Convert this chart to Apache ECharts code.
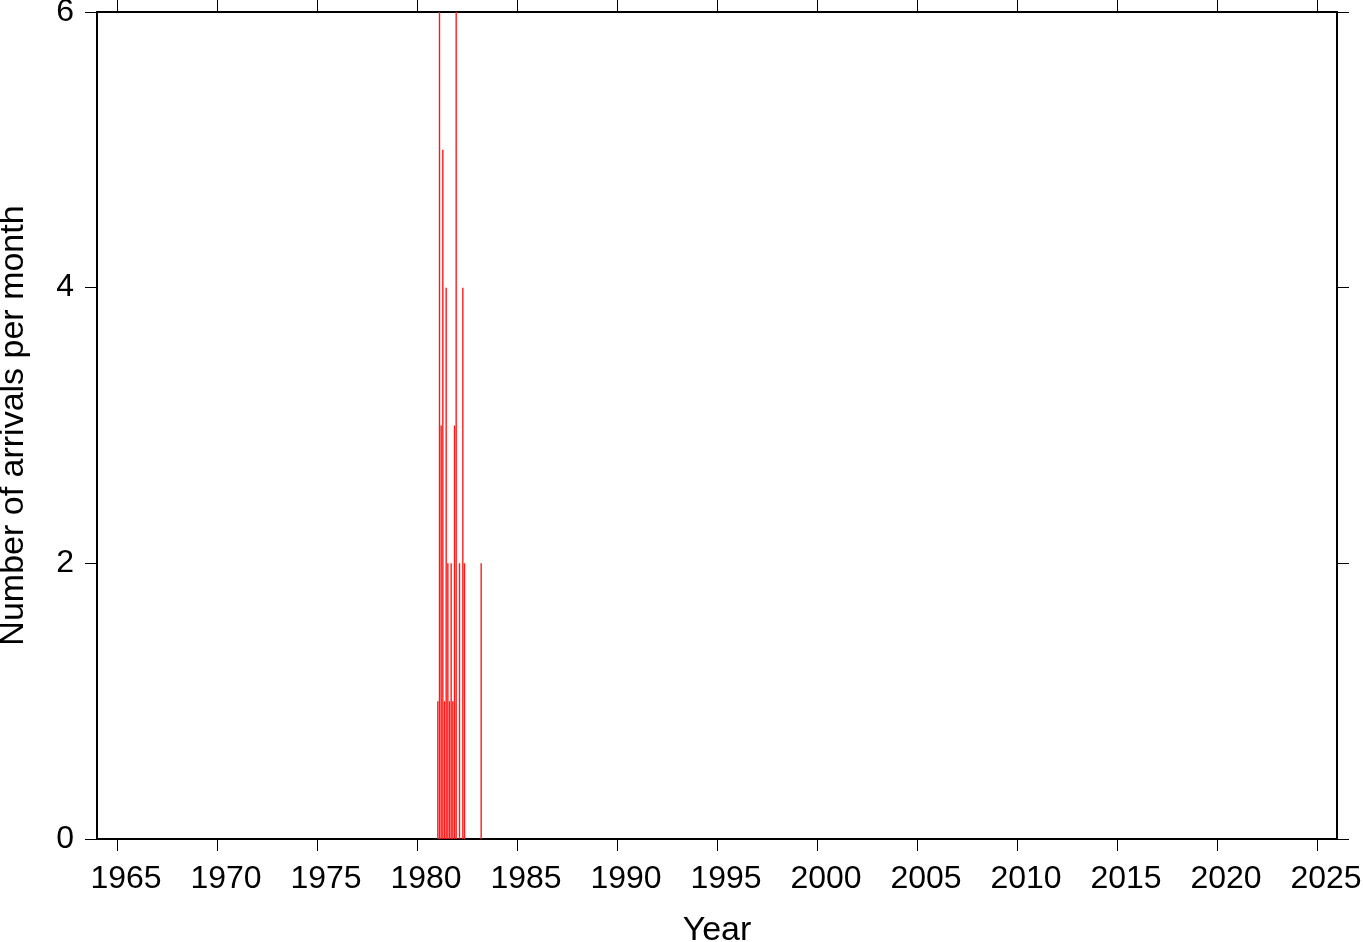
<!DOCTYPE html>
<html>
<head>
<meta charset="utf-8">
<script src="https://cdn.jsdelivr.net/npm/echarts@6/dist/echarts.min.js"></script>
<style>
html,body{margin:0;padding:0;background:#fff;}
#c{width:1363px;height:942px;}
</style>
</head>
<body>
<div id="c"></div>
<script>
// Monthly arrival counts (year-month)
const months = ["1981-01","1981-02","1981-03","1981-04","1981-05","1981-06","1981-07","1981-08",
                "1981-09","1981-10","1981-11","1981-12","1982-02","1982-04","1982-05","1983-03"];
const counts = [1,6,3,5,1,4,2,1,2,1,3,6,2,4,2,2];
const yearTicks = [1965,1970,1975,1980,1985,1990,1995,2000,2005,2010,2015,2020,2025];
const countTicks = [0,2,4,6];
const xTitle = "Year";
const yTitle = "Number of arrivals per month";

function monthCenter(s){
  const p = s.split("-");
  return (+p[0]) + (+p[1]-1)/12 + 1/24;
}
const barData = months.map((m,i)=>[monthCenter(m), counts[i]]);

const font = "Liberation Sans, Arial, Helvetica, sans-serif";
const chart = echarts.init(document.getElementById('c'), null, {renderer:'canvas'});
const lineStyle = {color:'#000', width:2};
const tickStyle = {color:'#000', width:1};
chart.setOption({
  animation:false,
  backgroundColor:'#fff',
  grid:{left:97, top:12, right:26, bottom:103, containLabel:false, outerBoundsMode:'none'},
  xAxis:[{
    type:'value', min:1964, max:2026, position:'bottom',
    name:xTitle, nameLocation:'middle', nameGap:75,
    nameTextStyle:{fontFamily:font, fontSize:34, color:'#000'},
    axisLine:{show:true, onZero:false, lineStyle:lineStyle},
    axisTick:{show:true, length:12, inside:false, lineStyle:tickStyle, customValues:yearTicks},
    axisLabel:{show:true, margin:24, fontFamily:font, fontSize:32, color:'#000', customValues:yearTicks,
      padding:[0,0,0,18], formatter:v=>String(v)},
    splitLine:{show:false}
  },{
    type:'value', min:1964, max:2026, position:'top',
    axisLine:{show:true, onZero:false, lineStyle:lineStyle},
    axisTick:{show:true, length:12, inside:false, lineStyle:tickStyle, customValues:yearTicks},
    axisLabel:{show:false},
    splitLine:{show:false}
  }],
  yAxis:[{
    type:'value', min:0, max:6, interval:2, position:'left',
    name:yTitle, nameLocation:'middle', nameGap:66, nameRotate:90,
    nameTextStyle:{fontFamily:font, fontSize:34, color:'#000'},
    axisLine:{show:true, onZero:false, lineStyle:lineStyle},
    axisTick:{show:true, length:12, inside:false, lineStyle:tickStyle, customValues:countTicks},
    axisLabel:{show:true, margin:23, fontFamily:font, fontSize:32, color:'#000', customValues:countTicks},
    splitLine:{show:false}
  },{
    type:'value', min:0, max:6, interval:2, position:'right',
    axisLine:{show:true, onZero:false, lineStyle:lineStyle},
    axisTick:{show:true, length:12, inside:false, lineStyle:tickStyle, customValues:countTicks},
    axisLabel:{show:false},
    splitLine:{show:false}
  }],
  series:[{
    type:'bar',
    xAxisIndex:0, yAxisIndex:0,
    data:barData,
    barWidth:1.4,
    itemStyle:{color:'#ff1a1a'},
    silent:true
  }]
});
</script>
</body>
</html>
